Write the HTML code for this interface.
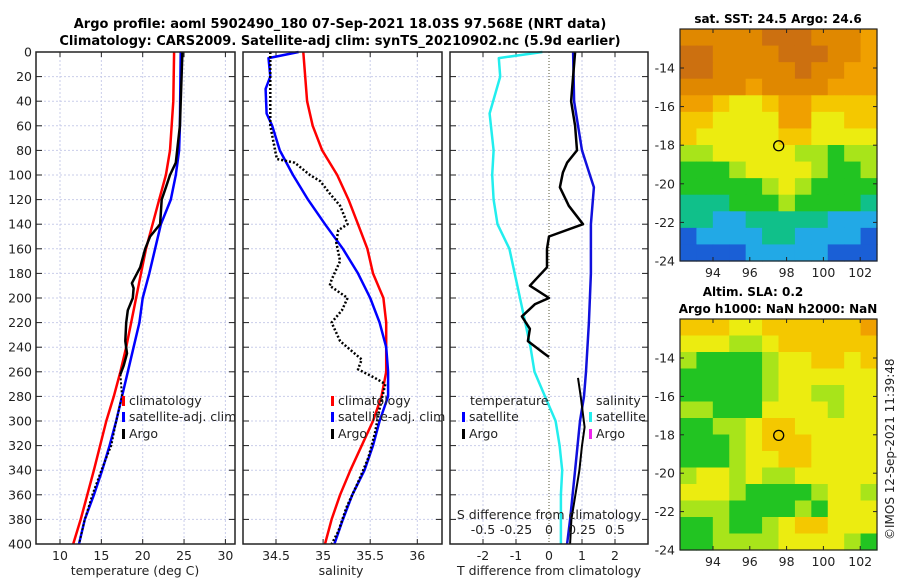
<!DOCTYPE html>
<html><head><meta charset="utf-8">
<style>
html,body{margin:0;padding:0;background:#fff;}
svg{display:block;font-family:"DejaVu Sans","Liberation Sans",sans-serif;}
</style></head>
<body>
<svg id="c" width="900" height="580" viewBox="0 0 900 580" xmlns="http://www.w3.org/2000/svg">
<text x="340" y="28" text-anchor="middle" font-size="13" font-weight="bold">Argo profile: aoml 5902490_180 07-Sep-2021 18.03S 97.568E (NRT data)</text>
<text x="340" y="45" text-anchor="middle" font-size="13" font-weight="bold">Climatology: CARS2009. Satellite-adj clim: synTS_20210902.nc (5.9d earlier)</text>
<text x="778" y="23" text-anchor="middle" font-size="12" font-weight="bold">sat. SST: 24.5 Argo: 24.6</text>
<text x="753" y="296" text-anchor="middle" font-size="12" font-weight="bold">Altim. SLA: 0.2</text>
<text x="778" y="313" text-anchor="middle" font-size="12" font-weight="bold">Argo h1000: NaN h2000: NaN</text>
<text transform="translate(894,540) rotate(-90)" font-size="12" fill="#222">©IMOS 12-Sep-2021 11:39:48</text>
<g id="layer"></g>
</svg>
<script>
// ---- data ----
const depthTicks=[0,20,40,60,80,100,120,140,160,180,200,220,240,260,280,300,320,340,360,380,400];
const tempTicks=[10,15,20,25,30];
const salTicks=[34.5,35,35.5,36];
const diffTicks=[-2,-1,0,1,2];
const sdiffTicks=["-0.5","-0.25","0","0.25","0.5"];
const sdiffVals=[-0.5,-0.25,0,0.25,0.5];

const tClimDepth=[0,40,80,100,120,140,160,180,200,240,260,280,300,340,380,400];
const tClim=[23.8,23.7,23.3,22.8,22.0,21.2,20.4,19.8,19.2,18.0,17.3,16.5,15.6,14.1,12.5,11.6];
const tSatDepth=[0,60,80,100,120,140,160,180,200,220,240,260,280,300,320,340,360,380,400];
const tSat=[24.6,24.5,24.4,24.0,23.4,22.2,21.5,20.8,20.0,19.6,18.9,18.2,17.5,16.8,16.0,15.1,14.1,13.0,12.3];
const tArgoDepth=[0,60,90,100,110,120,140,150,160,175,188,192,200,210,220,235,245,255,262];
const tArgo=[24.8,24.5,24.0,23.3,22.8,22.3,22.1,20.9,20.3,19.7,18.7,18.9,18.8,18.2,18.0,17.9,18.1,17.7,17.3];
const tArgoDeepDepth=[262,280,300,320,340,360,380,400];
const tArgoDeep=[17.3,17.5,16.8,16.2,15.0,13.9,13.0,12.3];

const sClimDepth=[0,40,60,80,100,120,140,160,180,200,220,240,260,280,300,340,360,380,400];
const sClim=[34.79,34.83,34.89,34.99,35.15,35.27,35.37,35.47,35.53,35.64,35.67,35.67,35.67,35.62,35.53,35.29,35.18,35.09,35.02];
const sSatDepth=[0,5,20,30,50,60,80,100,120,140,160,180,200,220,240,260,280,300,320,340,360,380,400];
const sSat=[34.74,34.42,34.44,34.39,34.40,34.46,34.54,34.68,34.84,35.02,35.21,35.37,35.50,35.60,35.67,35.69,35.69,35.60,35.53,35.44,35.31,35.21,35.12];
const sArgoDepth=[0,20,40,60,80,87,90,100,105,115,125,140,145,155,170,185,190,200,210,220,235,250,258,265,270,290,310,330,350,370,390,400];
const sArgo=[34.44,34.44,34.44,34.44,34.49,34.51,34.70,34.86,34.97,35.07,35.18,35.26,35.16,35.14,35.18,35.09,35.07,35.26,35.20,35.09,35.18,35.41,35.37,35.55,35.66,35.60,35.55,35.48,35.37,35.25,35.16,35.09];

const dTSatDepth=[0,40,80,100,110,140,180,220,260,280,300,340,380,400];
const dTSat=[0.73,0.76,1.0,1.24,1.36,1.27,1.27,1.21,1.12,1.06,0.94,0.79,0.64,0.55];
const dTArgoDepth=[0,20,40,60,80,90,98,110,125,140,150,160,175,190,200,205,215,225,235,245,248];
const dTArgo=[0.79,0.73,0.67,0.79,0.85,0.55,0.42,0.33,0.6,1.03,0.0,-0.06,-0.06,-0.58,0.0,-0.42,-0.82,-0.58,-0.64,-0.15,0.0];
const dSArgoDepth=[265,280,305,320,340,360,380,400];
const dSArgo=[0.22,0.24,0.27,0.25,0.23,0.2,0.17,0.16];
const dSSatDepth=[0,5,20,50,80,100,120,140,160,200,240,260,280,300,320,340,360,400];
const dSSat=[-0.05,-0.38,-0.37,-0.45,-0.42,-0.43,-0.42,-0.39,-0.30,-0.22,-0.14,-0.11,-0.03,0.05,0.08,0.1,0.09,0.09];

const lonTicks=[94,96,98,100,102];
const latTicks=[-14,-16,-18,-20,-22,-24];
const argoLon=97.57, argoLat=-18.03;
const sstRows=[
"888889998887","998888999887","998888898877","888878888777",
"776556776666","665555775566","655555665555","445555544344",
"333455554334","333334543333","222333433332","221122222111",
"011112211110","000011111000"];
const slaRows=[
"666556666667","555445666666","433334556656","333334555555",
"333334554455","443335555455","334456655555","333456665555",
"333455665555","455454455555","555433334554","444333343555",
"334334566555","334444555543"];
const palette=["#1a5fd6","#22a9e6","#10c08a","#22c422","#a8e41a","#ecec10","#f4c800","#f0a000","#e08800","#cc7010"];

// ---- drawing ----
const NS="http://www.w3.org/2000/svg";
const L=document.getElementById('layer');
function el(tag,attrs,parent){const e=document.createElementNS(NS,tag);for(const k in attrs)e.setAttribute(k,attrs[k]);(parent||L).appendChild(e);return e;}
function txt(x,y,s,size,anchor,parent){const t=el('text',{x:x,y:y,'font-size':size,'text-anchor':anchor||'middle',fill:'#222'},parent);t.textContent=s;return t;}
const Y0=52,Y1=544;
const yD=d=>Y0+(d/400)*(Y1-Y0);
const xT=v=>60+(v-10)*8.27;
const xS=v=>276+(v-34.5)*94.2;
const xDT=v=>549+v*33;
const xDS=v=>549+v*132;

function panel(x0,x1,name,gridXs){
  const g=el('g',{});
  
  
  gridXs.forEach(x=>{const l=el('line',{x1:x,x2:x,y1:Y0,y2:Y1,stroke:'#c9cdea','stroke-width':1,'stroke-dasharray':'2,2'},g);
    
    el('line',{x1:x,x2:x,y1:Y1,y2:Y1-5,stroke:'#222'},g);el('line',{x1:x,x2:x,y1:Y0,y2:Y0+5,stroke:'#222'},g);});
  depthTicks.forEach(d=>{const y=yD(d);if(d>0&&d<400){const l=el('line',{x1:x0,x2:x1,y1:y,y2:y,stroke:'#c9cdea','stroke-width':1,'stroke-dasharray':'2,2'},g);
    }
    el('line',{x1:x0,x2:x0+6,y1:y,y2:y,stroke:'#222'},g);el('line',{x1:x1-6,x2:x1,y1:y,y2:y,stroke:'#222'},g);});
  return g;
}
function frame(x0,x1,g){const r=el('rect',{x:x0,y:Y0,width:x1-x0,height:Y1-Y0,fill:'none',stroke:'#222','stroke-width':1.5},g);
  }
function line(depths,vals,xf,color,w,dash,name,g){
  const pts=depths.map((d,i)=>xf(vals[i]).toFixed(1)+','+yD(d).toFixed(1)).join(' ');
  const p=el('polyline',{points:pts,fill:'none',stroke:color,'stroke-width':w,'stroke-linejoin':'round'},g);
  if(dash)p.setAttribute('stroke-dasharray',dash);
  return p;}
function legend(x,y,color,label,g){
  const m=el('rect',{x:x,y:y-9,width:3,height:10,fill:color},g);
  
  const t=txt(x+7,y,label,12.5,'start',g);}

// Panel 1: temperature
const g1=panel(36,235,'temperature-panel',tempTicks.map(xT));
depthTicks.forEach(d=>{const t=txt(32,yD(d)+4.5,String(d),12.5,'end',g1);});
tempTicks.forEach(v=>{const t=txt(xT(v),560,String(v),12.5,'middle',g1);});
{const t=txt(135,575,'temperature (deg C)',12.5,'middle',g1);}
line(tClimDepth,tClim,xT,'#ff0000',2.5,null,'temp-climatology-line',g1);
line(tSatDepth,tSat,xT,'#0000ff',2.5,null,'temp-satellite-line',g1);
line(tArgoDepth,tArgo,xT,'#000',2.5,null,'temp-argo-line',g1);
line(tArgoDeepDepth,tArgoDeep,xT,'#000',2,'2,2','temp-argo-deep-line',g1);
legend(122,405,'#ff0000','climatology',g1);legend(122,421,'#0000ff','satellite-adj. clim',g1);legend(122,438,'#000','Argo',g1);
frame(36,235,g1);

// Panel 2: salinity
const g2=panel(243,442,'salinity-panel',salTicks.map(xS));
salTicks.forEach(v=>{const t=txt(xS(v),560,String(v),12.5,'middle',g2);});
{const t=txt(341,575,'salinity',12.5,'middle',g2);}
line(sClimDepth,sClim,xS,'#ff0000',2.5,null,'sal-climatology-line',g2);
line(sSatDepth,sSat,xS,'#0000ff',2.5,null,'sal-satellite-line',g2);
line(sArgoDepth,sArgo,xS,'#000',2.5,'2,2','sal-argo-line',g2);
legend(331,405,'#ff0000','climatology',g2);legend(331,421,'#0000ff','satellite-adj. clim',g2);legend(331,438,'#000','Argo',g2);
frame(243,442,g2);

// Panel 3: differences
const g3=panel(450,648,'difference-panel',diffTicks.map(xDT).filter(x=>x!==549));
{const z=el('line',{x1:549,x2:549,y1:Y0,y2:Y1,stroke:'#555533','stroke-width':1,'stroke-dasharray':'1,2'},g3);}
diffTicks.forEach(v=>{const t=txt(xDT(v),560,String(v),12.5,'middle',g3);});
{const t=txt(549,575,'T difference from climatology',12.5,'middle',g3);}
line(dSSatDepth,dSSat,xDS,'#22eeee',2.5,null,'sdiff-satellite-line',g3);
line(dTSatDepth,dTSat,xDT,'#1010dd',2.5,null,'tdiff-satellite-line',g3);
line(dTArgoDepth,dTArgo,xDT,'#000',2.5,null,'tdiff-argo-line',g3);
line(dSArgoDepth,dSArgo,xDS,'#000',2,null,'sdiff-argo-line',g3);
{const t=txt(470,405,'temperature',12.5,'start',g3);}
{const t=txt(596,405,'salinity',12.5,'start',g3);}
legend(462,421,'#0000ff','satellite',g3);legend(462,438,'#000','Argo',g3);
legend(589,421,'#22eeee','satellite',g3);legend(589,438,'#ee22ee','Argo',g3);
{const t=txt(549,519,'S difference from climatology',12.5,'middle',g3);}
sdiffVals.forEach((v,i)=>{const t=txt(xDS(v),534,sdiffTicks[i],12.5,'middle',g3);});
frame(450,648,g3);

// Maps
function map(top,bottom,rows,name,lat14y){
  const x0=680,x1=877;
  const lonX=lo=>713+(lo-94)*18.4;
  const ppd=(bottom-lat14y)/10;
  const latY=la=>lat14y+(-14-la)*ppd;
  const g=el('g',{});
  
  const nr=rows.length,nc=rows[0].length;
  const cw=(x1-x0)/nc,ch=(bottom-top)/nr;
  rows.forEach((r,i)=>{for(let j=0;j<nc;j++){
    const c=el('rect',{x:(x0+j*cw).toFixed(2),y:(top+i*ch).toFixed(2),width:(cw+0.6).toFixed(2),height:(ch+0.6).toFixed(2),fill:palette[+r[j]]},g);
    }});
  const f=el('rect',{x:x0,y:top,width:x1-x0,height:bottom-top,fill:'none',stroke:'#222','stroke-width':1.2},g);
  
  lonTicks.forEach(lo=>{const x=lonX(lo);el('line',{x1:x,x2:x,y1:bottom,y2:bottom-4,stroke:'#222'},g);el('line',{x1:x,x2:x,y1:top,y2:top+4,stroke:'#222'},g);
    const t=txt(x,bottom+16,String(lo),12.5,'middle',g);});
  latTicks.forEach(la=>{const y=latY(la);el('line',{x1:x0,x2:x0+4,y1:y,y2:y,stroke:'#222'},g);el('line',{x1:x1-4,x2:x1,y1:y,y2:y,stroke:'#222'},g);
    const t=txt(675,y+4.5,String(la),12.5,'end',g);});
  const c=el('circle',{cx:lonX(argoLon),cy:latY(argoLat),r:5,fill:'none',stroke:'#000','stroke-width':1.3},g);
  
}
map(29,261,sstRows,'sst-map',68);
map(319,550,slaRows,'sla-map',358);
</script>
</body></html>
